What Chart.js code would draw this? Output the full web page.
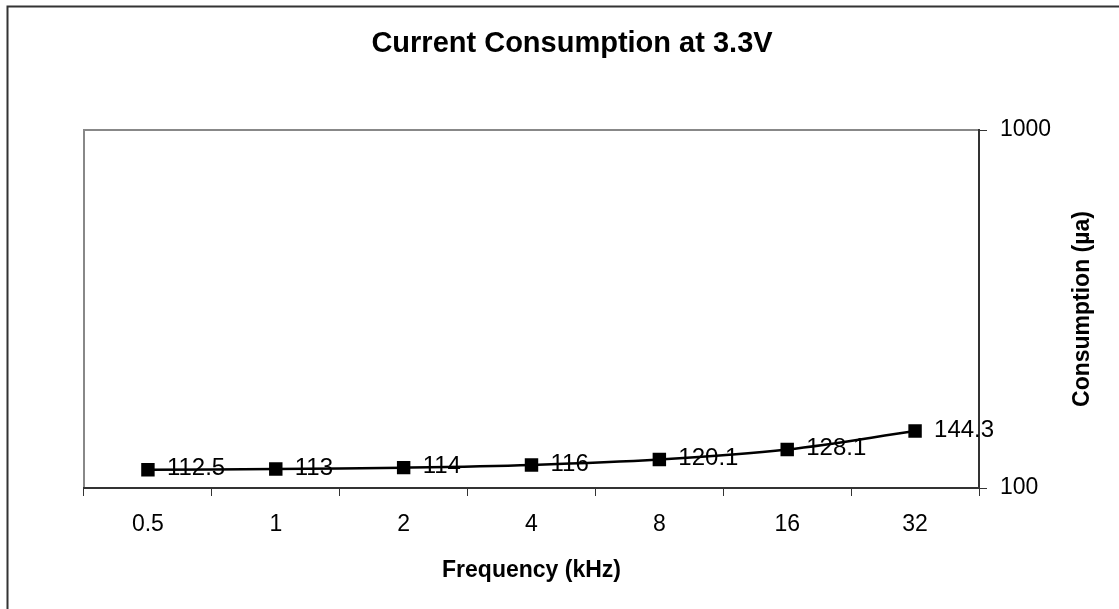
<!DOCTYPE html>
<html>
<head>
<meta charset="utf-8">
<script src="https://cdn.jsdelivr.net/npm/chart.js@4/dist/chart.umd.min.js"></script>
<style>
html,body{margin:0;padding:0;background:#fff;}
#wrap{width:1119px;height:609px;position:relative;}
</style>
</head>
<body>
<div id="wrap"><canvas id="c" width="1119" height="609"></canvas></div>
<script>
const categories = ['0.5', '1', '2', '4', '8', '16', '32'];
const consumption = [112.5, 113, 114, 116, 120.1, 128.1, 144.3];
const yTickValues = [100, 1000];
const chartTitle = 'Current Consumption at 3.3V';
const xTitle = 'Frequency (kHz)';
const yTitle = 'Consumption (µa)';

const FONT = "'Liberation Sans', Arial, Helvetica, sans-serif";

const framePlugin = {
  id: 'frame',
  beforeDraw(chart) {
    const {ctx, chartArea: a} = chart;
    ctx.save();
    // outer border
    ctx.strokeStyle = '#333';
    ctx.lineWidth = 2;
    ctx.beginPath();
    ctx.moveTo(7.5, 1200); ctx.lineTo(7.5, 6.5); ctx.lineTo(1200, 6.5);
    ctx.stroke();
    // plot area top/left border
    ctx.strokeStyle = '#888';
    ctx.lineWidth = 2;
    ctx.beginPath();
    ctx.moveTo(a.left, a.bottom); ctx.lineTo(a.left, a.top); ctx.lineTo(a.right, a.top);
    ctx.stroke();
    ctx.restore();
  },
  afterDraw(chart) {
    const {ctx, chartArea: a} = chart;
    ctx.save();
    ctx.fillStyle = '#000';
    // chart title
    ctx.font = 'bold 29px ' + FONT;
    ctx.textAlign = 'center';
    ctx.textBaseline = 'alphabetic';
    ctx.fillText(chartTitle, 572, 52);
    // y axis title (reads bottom to top)
    ctx.font = 'bold 23px ' + FONT;
    ctx.textBaseline = 'middle';
    ctx.translate(1083, (a.top + a.bottom) / 2);
    ctx.rotate(-Math.PI / 2);
    ctx.fillText(yTitle, 0, 0);
    ctx.restore();
  },
  afterDatasetsDraw(chart) {
    const {ctx} = chart;
    const meta = chart.getDatasetMeta(0);
    const data = chart.data.datasets[0].data;
    ctx.save();
    ctx.fillStyle = '#000';
    ctx.font = '24px ' + FONT;
    ctx.textAlign = 'left';
    ctx.textBaseline = 'middle';
    meta.data.forEach((pt, i) => {
      ctx.fillText(String(data[i]), pt.x + 19, pt.y - 1);
    });
    ctx.restore();
  }
};

new Chart(document.getElementById('c'), {
  type: 'line',
  data: {
    labels: categories,
    datasets: [{
      data: consumption,
      borderColor: '#000',
      backgroundColor: '#000',
      borderWidth: 2.5,
      pointStyle: 'rect',
      pointRadius: 9.5,
      pointBorderWidth: 0,
      tension: 0.35,
      fill: false
    }]
  },
  options: {
    responsive: false,
    animation: false,
    layout: {padding: {left: 84, right: 0, top: 130, bottom: 0}},
    plugins: {
      legend: {display: false},
      tooltip: {enabled: false},
      title: {display: false}
    },
    scales: {
      x: {
        type: 'category',
        offset: true,
        afterFit(s) { s.height = 121; },
        grid: {
          offset: true,
          drawOnChartArea: false,
          drawTicks: true,
          tickLength: 8,
          color: '#333',
          lineWidth: 1
        },
        border: {display: true, color: '#333', width: 2},
        ticks: {color: '#000', font: {family: FONT, size: 23}, padding: 15, maxRotation: 0},
        title: {
          display: true,
          text: xTitle,
          color: '#000',
          font: {family: FONT, size: 23, weight: 'bold'},
          padding: {top: 0, bottom: 25}
        }
      },
      y: {
        type: 'logarithmic',
        position: 'right',
        min: 100,
        max: 1000,
        afterFit(s) { s.width = 140; },
        afterBuildTicks(s) { s.ticks = yTickValues.map(v => ({value: v})); },
        grid: {
          drawOnChartArea: false,
          drawTicks: true,
          tickLength: 8,
          color: '#333'
        },
        border: {display: true, color: '#333', width: 2},
        ticks: {
          color: '#000',
          font: {family: FONT, size: 23},
          padding: 13,
          callback: v => String(v)
        }
      }
    }
  },
  plugins: [framePlugin]
});
</script>
</body>
</html>
